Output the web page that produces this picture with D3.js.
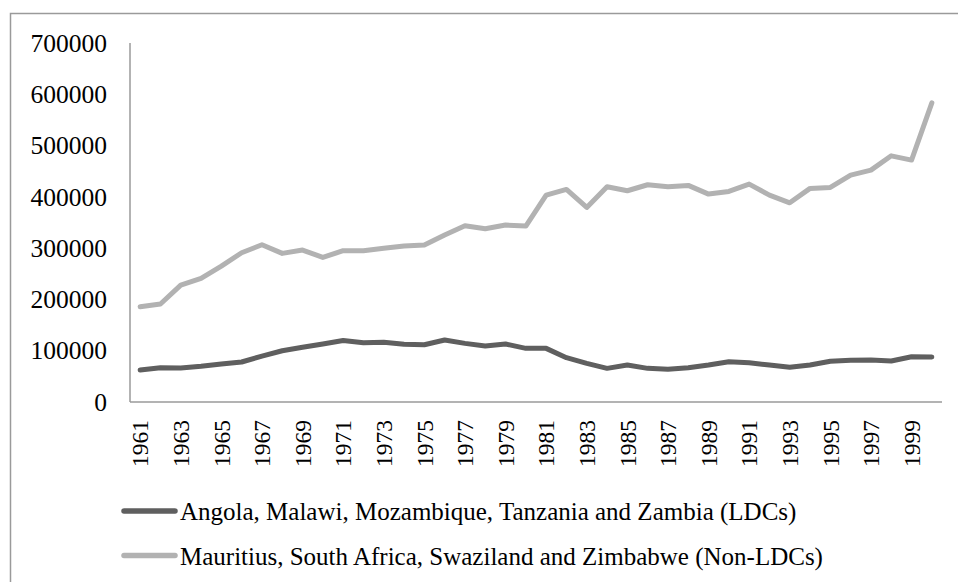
<!DOCTYPE html>
<html>
<head>
<meta charset="utf-8">
<script src="https://cdn.jsdelivr.net/npm/d3@7"></script>
<style>
  body { margin: 0; background: #fff; }
</style>
</head>
<body>
<div id="chart"></div>
<script>
// chart data
const years = d3.range(1961, 2001);
const ldcValues = [
    62400, 66800, 66300, 69500, 74000, 78000, 89600, 100000, 106600, 113000,
    120000, 115600, 116300, 112400, 111700, 120800, 114300, 109000, 113000, 104600,
    104600, 86400, 75400, 65600, 72100, 65600, 63700, 66900, 72100, 78600,
    76600, 72100, 67600, 72100, 79300, 81300, 81900, 79900, 88300, 87700
];
const nonLdcValues = [
    185800, 191000, 228000, 241000, 265000, 291000, 306600, 289800, 296200, 282000,
    295000, 295000, 299600, 304000, 306000, 325500, 343600, 337800, 345000, 343000,
    403400, 414500, 379400, 419700, 411900, 423600, 419700, 422300, 405400, 410600,
    424900, 403400, 388400, 416500, 418400, 442400, 452100, 480000, 471700, 583300
];
const seriesNames = [
    "Angola, Malawi, Mozambique, Tanzania and Zambia (LDCs)",
    "Mauritius, South Africa, Swaziland and Zimbabwe (Non-LDCs)"
];
const seriesColors = ["#5f5f5f", "#b2b2b2"];
const yTicks = [0, 100000, 200000, 300000, 400000, 500000, 600000, 700000];

const FONT = "'Liberation Serif'";

let series = [ldcValues, nonLdcValues];

let margin = {top: 43, right: 16, bottom: 180, left: 130};
let width = 958 - margin.left - margin.right;
let height = 582 - margin.top - margin.bottom;

let svg = d3.select("#chart").append("svg")
    .attr("width", 958)
    .attr("height", 582);

// outer chart border (runs off the right and bottom edges)
svg.append("rect")
    .attr("x", 10.5)
    .attr("y", 13.5)
    .attr("width", 1000)
    .attr("height", 600)
    .attr("fill", "none")
    .attr("stroke", "#9a9a9a")
    .attr("stroke-width", 1.5);

let g = svg.append("g")
    .attr("transform", "translate(" + margin.left + "," + margin.top + ")");

// scales
let x = d3.scaleBand()
    .domain(years)
    .range([0, width]);

let y = d3.scaleLinear()
    .domain([0, 700000])
    .range([height, 0]);

// y axis labels
let yAxis = d3.axisLeft(y)
    .tickValues(yTicks)
    .tickSize(0)
    .tickPadding(23)
    .tickFormat(d3.format("d"));

g.append("g")
    .attr("class", "y-axis")
    .call(yAxis)
    .call(a => a.select(".domain").remove())
    .selectAll("text")
    .style("font-family", FONT)
    .style("font-size", "25.5px")
    .attr("fill", "#000");

// x axis labels (every other year)
let xAxis = d3.axisBottom(x)
    .tickValues(years.filter((d, i) => i % 2 === 0))
    .tickSize(0);

g.append("g")
    .attr("class", "x-axis")
    .attr("transform", "translate(0," + height + ")")
    .call(xAxis)
    .call(a => a.select(".domain").remove())
    .selectAll("text")
    .style("font-family", FONT)
    .style("font-size", "23.5px")
    .attr("fill", "#000")
    .attr("text-anchor", "end")
    .attr("dy", "0.35em")
    .attr("transform", "translate(0,18) rotate(-90)")
    .attr("x", 0)
    .attr("y", 0);

// axis lines
g.append("line")
    .attr("x1", 0).attr("x2", 0)
    .attr("y1", 0).attr("y2", height)
    .attr("stroke", "#9a9a9a")
    .attr("stroke-width", 1.5);

g.append("line")
    .attr("x1", 0).attr("x2", width)
    .attr("y1", height).attr("y2", height)
    .attr("stroke", "#9a9a9a")
    .attr("stroke-width", 1.5);

// lines
let line = d3.line()
    .x((d, i) => x(years[i]) + x.bandwidth() / 2)
    .y(d => y(d));

g.selectAll(".series")
    .data(series)
    .enter().append("path")
    .attr("class", "series")
    .attr("d", d => line(d))
    .attr("fill", "none")
    .attr("stroke", (d, i) => seriesColors[i])
    .attr("stroke-width", 5)
    .attr("stroke-linejoin", "round")
    .attr("stroke-linecap", "round");

// legend
let legend = svg.selectAll(".legend")
    .data(seriesNames)
    .enter().append("g")
    .attr("class", "legend")
    .attr("transform", (d, i) => "translate(121," + (511 + i * 44.5) + ")");

legend.append("line")
    .attr("x1", 3).attr("x2", 54)
    .attr("y1", 0).attr("y2", 0)
    .attr("stroke", (d, i) => seriesColors[i])
    .attr("stroke-width", 5.5)
    .attr("stroke-linecap", "round");

legend.append("text")
    .attr("x", 59)
    .attr("y", 9)
    .style("font-family", FONT)
    .style("font-size", "25px")
    .attr("fill", "#000")
    .text(d => d);
</script>
</body>
</html>
